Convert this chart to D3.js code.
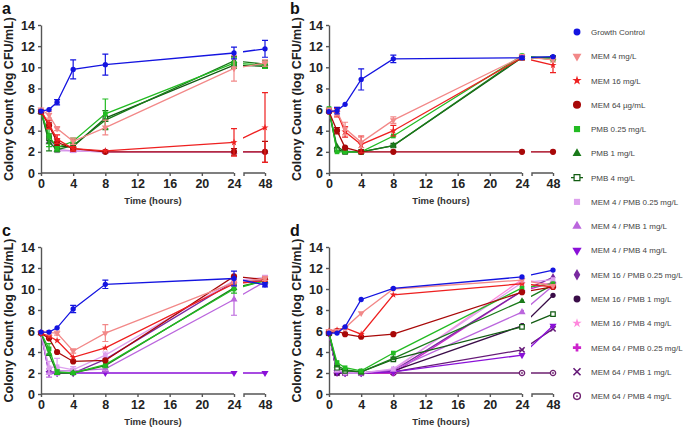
<!DOCTYPE html>
<html><head><meta charset="utf-8">
<script src="https://cdn.jsdelivr.net/npm/d3@7"></script>
<style>
body{margin:0;background:#fff;}
svg{display:block;font-family:"Liberation Sans",Arial,sans-serif;}
</style></head>
<body><svg id="chart" width="685" height="427"></svg>
<script>
// ---------------- DATA ----------------
const hours = [0, 1, 2, 4, 8, 24, 48];
const xTicks = [0, 4, 8, 12, 16, 20, 24];
const xTicksBroken = [48];
const yTicks = [0, 2, 4, 6, 8, 10, 12, 14];
const seriesNames = [
  "Growth Control", "MEM 4 mg/L", "MEM 16 mg/L", "MEM 64 \u00b5g/mL",
  "PMB 0.25 mg/L", "PMB 1 mg/L", "PMB 4 mg/L",
  "MEM 4 / PMB 0.25 mg/L", "MEM 4 / PMB 1 mg/L", "MEM 4 / PMB 4 mg/L",
  "MEM 16 / PMB 0.25 mg/L", "MEM 16 / PMB 1 mg/L", "MEM 16 / PMB 4 mg/L",
  "MEM 64 / PMB 0.25 mg/L", "MEM 64 / PMB 1 mg/L", "MEM 64 / PMB 4 mg/L"
];

// Panel a (means, log CFU/mL)
const panelA = {
  "MEM 4 / PMB 1 mg/L":    [5.8, 3.0, 2.2, 2.1, 2.0, 2.0, 2.0],
  "MEM 4 / PMB 0.25 mg/L": [5.8, 3.4, 2.1, 2.1, 2.0, 2.0, 2.0],
  "PMB 4 mg/L":            [5.8, 3.3, 2.5, 2.5, 5.2, 10.2, 10.1],
  "PMB 1 mg/L":            [5.8, 2.9, 2.2, 2.6, 5.0, 10.6, 10.3],
  "PMB 0.25 mg/L":         [5.8, 3.5, 2.4, 3.0, 5.6, 10.4, 10.2],
  "MEM 64 \u00b5g/mL":     [5.8, 4.5, 2.9, 2.3, 2.0, 2.0, 2.0],
  "MEM 16 mg/L":           [5.9, 4.6, 3.2, 2.3, 2.1, 2.9, 4.3],
  "MEM 4 mg/L":            [6.0, 5.5, 4.2, 3.0, 4.3, 9.9, 10.4],
  "Growth Control":        [5.85, 6.0, 6.7, 9.8, 10.25, 11.35, 11.75]
};
const panelAErr = {
  "PMB 0.25 mg/L":     [0.1, 1.0, 0.3, 0.3, 1.4, 0.5, 0.3],
  "PMB 1 mg/L":        [0.1, 0.8, 0.2, 0.2, 0.9, 0.4, 0.3],
  "MEM 64 \u00b5g/mL": [0.1, 0.3, 0.3, 0.2, 0.1, 0.3, 1.0],
  "MEM 16 mg/L":       [0.1, 0.4, 0.4, 0.2, 0.1, 1.3, 3.3],
  "MEM 4 mg/L":        [0.1, 0.3, 0.2, 0.3, 0.7, 1.2, 0.3],
  "Growth Control":    [0.1, 0.1, 0.25, 0.9, 1.0, 0.55, 0.8]
};

// Panel b
const panelB = {
  "MEM 4 / PMB 0.25 mg/L": [5.8, 2.3, 2.1, 2.0, 2.0, 2.0, 2.0],
  "PMB 4 mg/L":            [5.9, 2.2, 2.0, 2.0, 2.6, 10.9, 10.9],
  "PMB 1 mg/L":            [5.9, 2.5, 2.0, 2.0, 2.6, 11.0, 10.9],
  "PMB 0.25 mg/L":         [6.1, 2.0, 2.0, 2.0, 3.5, 11.1, 10.7],
  "MEM 64 \u00b5g/mL":     [5.8, 4.0, 2.4, 2.0, 2.0, 2.0, 2.0],
  "MEM 16 mg/L":           [5.9, 5.7, 3.9, 2.7, 4.0, 10.9, 10.2],
  "MEM 4 mg/L":            [6.0, 5.8, 4.2, 2.9, 5.0, 11.0, 10.7],
  "Growth Control":        [5.8, 5.9, 6.5, 8.85, 10.8, 10.9, 11.0]
};
const panelBErr = {
  "MEM 64 \u00b5g/mL": [0.1, 0.3, 0.1, 0.1, 0.1, 0.1, 0.1],
  "MEM 16 mg/L":       [0.1, 0.4, 0.5, 0.8, 0.5, 0.2, 0.7],
  "MEM 4 mg/L":        [0.1, 0.4, 0.6, 0.5, 0.3, 0.2, 0.2],
  "Growth Control":    [0.1, 0.3, 0.1, 1.0, 0.35, 0.15, 0.1]
};

// Panel c
const panelC = {
  "MEM 4 / PMB 4 mg/L":     [5.8, 2.0, 2.0, 2.0, 2.0, 2.0, 2.0],
  "MEM 16 / PMB 0.25 mg/L": [5.8, 2.2, 2.0, 2.0, 3.3, 10.7, 10.9],
  "MEM 4 / PMB 1 mg/L":     [5.8, 2.0, 2.2, 2.2, 2.4, 9.0, 10.7],
  "MEM 4 / PMB 0.25 mg/L":  [5.8, 2.5, 2.6, 2.3, 3.7, 10.8, 11.1],
  "PMB 1 mg/L":             [5.8, 3.8, 2.0, 2.0, 2.7, 10.1, 10.8],
  "PMB 0.25 mg/L":          [5.8, 4.3, 2.1, 2.0, 2.8, 10.0, 10.8],
  "MEM 64 \u00b5g/mL":      [5.8, 5.3, 4.0, 3.1, 3.2, 11.2, 10.9],
  "MEM 16 mg/L":            [5.8, 5.5, 5.1, 3.5, 4.4, 10.5, 10.8],
  "MEM 4 mg/L":             [5.9, 5.85, 5.8, 4.1, 5.8, 10.6, 11.0],
  "Growth Control":         [5.9, 5.9, 6.3, 8.1, 10.45, 11.0, 10.4]
};
const panelCErr = {
  "MEM 4 / PMB 1 mg/L":    [0.1, 0.4, 0.3, 0.2, 0.3, 1.5, 0.3],
  "MEM 4 / PMB 0.25 mg/L": [0.1, 0.6, 0.8, 0.3, 0.3, 0.4, 0.2],
  "PMB 0.25 mg/L":         [0.1, 0.5, 0.2, 0.1, 0.3, 0.4, 0.3],
  "MEM 4 mg/L":            [0.1, 0.2, 0.2, 0.2, 0.8, 0.3, 0.2],
  "Growth Control":        [0.1, 0.1, 0.1, 0.35, 0.4, 0.7, 0.2]
};

// Panel d
const panelD = {
  "MEM 64 / PMB 4 mg/L":    [5.8, 2.0, 2.0, 2.0, 2.0, 2.0, 2.0],
  "MEM 64 / PMB 1 mg/L":    [5.8, 2.0, 2.0, 2.0, 2.1, 4.2, 6.2],
  "MEM 64 / PMB 0.25 mg/L": [5.8, 2.0, 2.0, 2.0, 2.0, 9.8, 10.6],
  "MEM 16 / PMB 4 mg/L":    [5.8, 2.1, 2.0, 2.0, 2.3, 10.9, 10.4],
  "MEM 16 / PMB 1 mg/L":    [5.8, 2.0, 2.0, 2.0, 2.2, 6.5, 9.4],
  "MEM 16 / PMB 0.25 mg/L": [5.8, 2.1, 2.0, 2.0, 2.2, 9.8, 11.1],
  "MEM 4 / PMB 4 mg/L":     [5.8, 2.1, 2.0, 2.0, 2.1, 3.7, 6.5],
  "MEM 4 / PMB 1 mg/L":     [5.8, 2.2, 2.1, 2.0, 2.3, 7.8, 10.3],
  "MEM 4 / PMB 0.25 mg/L":  [5.8, 2.3, 2.0, 2.0, 2.4, 10.6, 10.9],
  "PMB 4 mg/L":             [5.8, 2.5, 2.2, 2.1, 3.3, 6.4, 7.6],
  "PMB 1 mg/L":             [5.8, 2.7, 2.3, 2.1, 3.4, 8.85, 10.4],
  "PMB 0.25 mg/L":          [5.8, 3.0, 2.5, 2.2, 3.9, 10.1, 10.5],
  "MEM 64 \u00b5g/mL":      [5.8, 6.0, 5.7, 5.45, 5.7, 9.7, 10.2],
  "MEM 16 mg/L":            [6.0, 6.1, 6.3, 5.7, 9.45, 10.5, 10.2],
  "MEM 4 mg/L":             [6.0, 6.0, 6.3, 7.7, 10.0, 10.85, 10.3],
  "Growth Control":         [5.8, 5.8, 6.4, 9.0, 10.05, 11.15, 11.8]
};
const panelDErr = {};

// ---------------- STYLES ----------------
const styles = {
  "Growth Control":         {c:"#1414e0", s:"circle", sz:22},
  "MEM 4 mg/L":             {c:"#f28888", s:"tridown", sz:20},
  "MEM 16 mg/L":            {c:"#ee2020", s:"star", sz:16},
  "MEM 64 \u00b5g/mL":      {c:"#a80808", s:"circle", sz:30},
  "PMB 0.25 mg/L":          {c:"#22bb22", s:"square", sz:22},
  "PMB 1 mg/L":             {c:"#1a7a1a", s:"triangle", sz:20},
  "PMB 4 mg/L":             {c:"#125c12", s:"opensq", sz:20},
  "MEM 4 / PMB 0.25 mg/L":  {c:"#dda0ee", s:"square", sz:22},
  "MEM 4 / PMB 1 mg/L":     {c:"#bb66dd", s:"triangle", sz:22},
  "MEM 4 / PMB 4 mg/L":     {c:"#8a10d8", s:"tridown", sz:22},
  "MEM 16 / PMB 0.25 mg/L": {c:"#7a2aa0", s:"diamond", sz:22},
  "MEM 16 / PMB 1 mg/L":    {c:"#3a0d48", s:"circle", sz:22},
  "MEM 16 / PMB 4 mg/L":    {c:"#ff88dd", s:"star", sz:16},
  "MEM 64 / PMB 0.25 mg/L": {c:"#cc22cc", s:"cross", sz:22},
  "MEM 64 / PMB 1 mg/L":    {c:"#661a78", s:"x", sz:20},
  "MEM 64 / PMB 4 mg/L":    {c:"#6e2070", s:"target", sz:22}
};

const svg = d3.select("#chart");
const panels = [
  {id:"a", data:panelA, err:panelAErr, x0:41,  yTop:25,  yBot:173, lx:2,   ly:14},
  {id:"b", data:panelB, err:panelBErr, x0:329, yTop:25,  yBot:173, lx:290, ly:14},
  {id:"c", data:panelC, err:panelCErr, x0:41,  yTop:247, yBot:394, lx:2,   ly:236},
  {id:"d", data:panelD, err:panelDErr, x0:329, yTop:247, yBot:394, lx:290, ly:236}
];
const axisColor = "#555";

function drawMarker(g, st, x, y) {
  const sym = {circle:d3.symbolCircle, square:d3.symbolSquare, triangle:d3.symbolTriangle,
    tridown:d3.symbolTriangle, cross:d3.symbolCross, diamond:d3.symbolDiamond, star:d3.symbolStar,
    x:d3.symbolX, opensq:d3.symbolSquare, target:d3.symbolCircle}[st.s];
  const p = g.append("path").attr("d", d3.symbol().type(sym).size(st.sz)())
    .attr("transform", `translate(${x},${y})` + (st.s === "tridown" ? " rotate(180)" : ""));
  if (st.s === "opensq") {
    p.attr("fill", "#fff").attr("stroke", st.c).attr("stroke-width", 1.2);
  } else if (st.s === "target") {
    p.attr("fill", "#fff").attr("stroke", st.c).attr("stroke-width", 1.3);
    g.append("circle").attr("cx", x).attr("cy", y).attr("r", 0.9).attr("fill", st.c);
  } else if (st.s === "x") {
    p.attr("fill", "none").attr("stroke", st.c).attr("stroke-width", 1.6);
  } else {
    p.attr("fill", st.c);
  }
}

panels.forEach((P, pi) => {
  const g = svg.append("g");
  const x24 = P.x0 + 193;
  const x = d3.scaleLinear().domain([0, 24, 48]).range([P.x0, x24, x24 + 31]);
  const y = d3.scaleLinear().domain([0, 14]).range([P.yBot, P.yTop]);

  // clip to create axis break gap in lines
  const clipId = "clip" + P.id;
  const cp = svg.append("clipPath").attr("id", clipId);
  cp.append("rect").attr("x", 0).attr("y", 0).attr("width", x24 + 2).attr("height", 427);
  cp.append("rect").attr("x", x24 + 9).attr("y", 0).attr("width", 200).attr("height", 427);

  // axes
  const yAx = g.append("g").attr("transform", `translate(${P.x0},0)`)
    .call(d3.axisLeft(y).tickValues(yTicks).tickSize(3).tickPadding(3).tickSizeOuter(0));
  const xAx1 = g.append("g").attr("transform", `translate(0,${P.yBot})`)
    .call(d3.axisBottom(x).tickValues(xTicks).tickSize(3).tickPadding(3).tickSizeOuter(0));
  xAx1.select(".domain").attr("d", `M${P.x0},0H${x24}`);
  const xAx2 = g.append("g").attr("transform", `translate(0,${P.yBot})`)
    .call(d3.axisBottom(x).tickValues(xTicksBroken).tickSize(3).tickPadding(3).tickSizeOuter(0));
  xAx2.select(".domain").attr("d", `M${x24 + 10},3V0H${x(48)}`);
  [yAx, xAx1, xAx2].forEach(a => {
    a.selectAll("path,line").attr("stroke", axisColor).attr("stroke-width", 1.4);
    a.selectAll("text").attr("font-size", 12.5).attr("font-weight", "bold").attr("fill", "#222")
      .attr("font-family", "'Liberation Sans',Arial,sans-serif");
  });

  // labels
  g.append("text").attr("x", P.lx).attr("y", P.ly).text(P.id)
    .attr("font-size", 16).attr("font-weight", "bold").attr("fill", "#111");
  g.append("text")
    .attr("transform", `translate(${P.x0 - 28},${(P.yTop + P.yBot) / 2}) rotate(-90)`)
    .attr("text-anchor", "middle").attr("font-size", 12.5).attr("font-weight", "bold").attr("fill", "#222")
    .text("Colony Count (log CFU/mL)");
  g.append("text").attr("x", (P.x0 + x(48)) / 2).attr("y", P.yBot + 31)
    .attr("text-anchor", "middle").attr("font-size", 9.5).attr("font-weight", "bold").attr("fill", "#333")
    .text("Time (hours)");

  // series
  const names = Object.keys(P.data);
  const line = d3.line().x((d, i) => x(hours[i])).y(d => y(d));
  names.forEach(name => {
    const st = styles[name];
    const vals = P.data[name];
    const sg = g.append("g");
    sg.append("path").datum(vals).attr("d", line).attr("fill", "none")
      .attr("stroke", st.c).attr("stroke-width", 1.3).attr("clip-path", `url(#${clipId})`);
    const err = P.err[name];
    if (err) {
      vals.forEach((v, i) => {
        const e = err[i];
        if (e < 0.15) return;
        const xx = x(hours[i]);
        sg.append("path")
          .attr("d", `M${xx},${y(v - e)}V${y(v + e)}M${xx - 3},${y(v - e)}H${xx + 3}M${xx - 3},${y(v + e)}H${xx + 3}`)
          .attr("stroke", st.c).attr("stroke-width", 1.2).attr("fill", "none");
      });
    }
    vals.forEach((v, i) => drawMarker(sg, st, x(hours[i]), y(v)));
  });
});

// legend
const lg = svg.append("g");
seriesNames.forEach((name, i) => {
  const yy = 32 + i * 24.27;
  const st = styles[name];
  if (name === "PMB 4 mg/L") {
    lg.append("line").attr("x1", 571).attr("x2", 583).attr("y1", yy).attr("y2", yy)
      .attr("stroke", st.c).attr("stroke-width", 1.3);
  }
  drawMarker(lg, Object.assign({}, st, {sz: st.sz * 1.7}), 577, yy);
  lg.append("text").attr("x", 591).attr("y", yy + 3).text(name)
    .attr("font-size", 8).attr("fill", "#444");
});
</script>
</body></html>
